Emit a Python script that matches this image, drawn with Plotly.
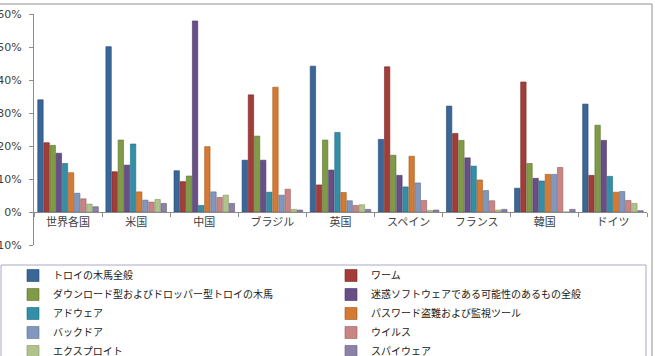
import plotly.graph_objects as go

categories = ["世界各国", "米国", "中国", "ブラジル", "英国", "スペイン", "フランス", "韓国", "ドイツ"]

series_names = [
    "トロイの木馬全般",
    "ワーム",
    "ダウンロード型およびドロッパー型トロイの木馬",
    "迷惑ソフトウェアである可能性のあるもの全般",
    "アドウェア",
    "パスワード盗難および監視ツール",
    "バックドア",
    "ウイルス",
    "エクスプロイト",
    "スパイウェア",
]

trojan      = [34.0, 50.1, 12.5, 15.7, 44.2, 22.0, 32.1,  7.2, 32.7]
worm        = [21.0, 12.2,  9.2, 35.5,  8.2, 44.0, 23.8, 39.4, 11.1]
downloader  = [20.2, 21.8, 10.9, 23.0, 21.8, 17.2, 21.7, 14.7, 26.3]
unwanted    = [17.8, 14.2, 57.9, 15.7, 12.7, 11.1, 16.4, 10.2, 21.7]
adware      = [14.7, 20.6,  2.0,  6.0, 24.1,  7.6, 13.9,  9.4, 10.8]
password    = [11.9,  6.1, 19.8, 37.8,  5.9, 16.9,  9.7, 11.4,  6.0]
backdoor    = [ 5.7,  3.6,  6.1,  5.1,  3.4,  8.8,  6.5, 11.4,  6.2]
virus       = [ 4.0,  3.0,  4.4,  6.9,  2.0,  3.5,  3.4, 13.5,  3.5]
exploit     = [ 2.4,  3.8,  5.1,  0.8,  2.2,  0.5,  0.6,  0.0,  2.6]
spyware     = [ 1.6,  2.6,  2.6,  0.6,  0.8,  0.6,  0.8,  0.8,  0.4]

series_values = [trojan, worm, downloader, unwanted, adware, password,
                 backdoor, virus, exploit, spyware]

colors = ["#3A6797", "#A23D3A", "#7F9B45", "#684F88", "#338FA8", "#D57A33",
          "#8197BD", "#C98584", "#AFC38A", "#8C82A6"]
edge_colors = ["#24476E", "#742725", "#5A7030", "#473560", "#216A7D", "#A2561D",
               "#5B6E92", "#9A5C5B", "#84966A", "#645B7D"]

fig = go.Figure()
for name, vals, c, ec in zip(series_names, series_values, colors, edge_colors):
    fig.add_trace(go.Bar(
        x=categories, y=vals, name=name,
        marker=dict(color=c, line=dict(color=ec, width=0.6)),
    ))

font_family = "DejaVu Sans, Noto Sans CJK JP, sans-serif"
axis_grey = "#8C8C8C"

W, H = 655, 356
L, R, T, B = 34, 8, 14, 111
PW = W - L - R
PH = H - T - B


def px_x(px):
    return (px - L) / PW


def px_y(py):
    return (H - B - py) / PH


fig.update_layout(
    width=W, height=H,
    margin=dict(l=L, r=R, t=T, b=B, autoexpand=False),
    paper_bgcolor="white", plot_bgcolor="white",
    barmode="group", bargap=0.1, bargroupgap=0.12,
    font=dict(family=font_family, size=11, color="#404040"),
    showlegend=True,
    legend=dict(
        orientation="h",
        x=px_x(13), xanchor="left",
        y=px_y(261), yanchor="top",
        entrywidth=273, entrywidthmode="pixels",
        font=dict(size=10, color="#202020"),
        itemwidth=30,
        bgcolor="rgba(0,0,0,0)",
        traceorder="normal",
    ),
    xaxis=dict(
        type="category",
        anchor="free", position=1 / 7,
        showline=True, linecolor=axis_grey, linewidth=1,
        ticks="outside", tickson="boundaries", ticklen=4, tickcolor=axis_grey,
        showgrid=False, zeroline=False,
        tickfont=dict(size=11, color="#404040"),
    ),
    yaxis=dict(
        range=[-10, 60], dtick=10,
        ticksuffix="%",
        showline=True, linecolor=axis_grey, linewidth=1,
        ticks="outside", ticklen=4, tickcolor=axis_grey,
        ticklabelstandoff=5,
        showgrid=False, zeroline=False,
        tickfont=dict(size=11, color="#404040"),
    ),
    shapes=[
        # outer chart frame (top and right edges)
        dict(type="line", xref="paper", yref="paper",
             x0=px_x(-5), x1=px_x(652), y0=px_y(4), y1=px_y(4),
             line=dict(color="#B4B4B4", width=1.5)),
        dict(type="line", xref="paper", yref="paper",
             x0=px_x(652), x1=px_x(652), y0=px_y(4), y1=px_y(360),
             line=dict(color="#B4B4B4", width=1.5)),
        # legend box
        dict(type="rect", xref="paper", yref="paper",
             x0=px_x(1), x1=px_x(646), y0=px_y(265), y1=px_y(360),
             line=dict(color="#A8A8C4", width=1), fillcolor="rgba(0,0,0,0)"),
    ],
)

fig.write_html("out.html")
